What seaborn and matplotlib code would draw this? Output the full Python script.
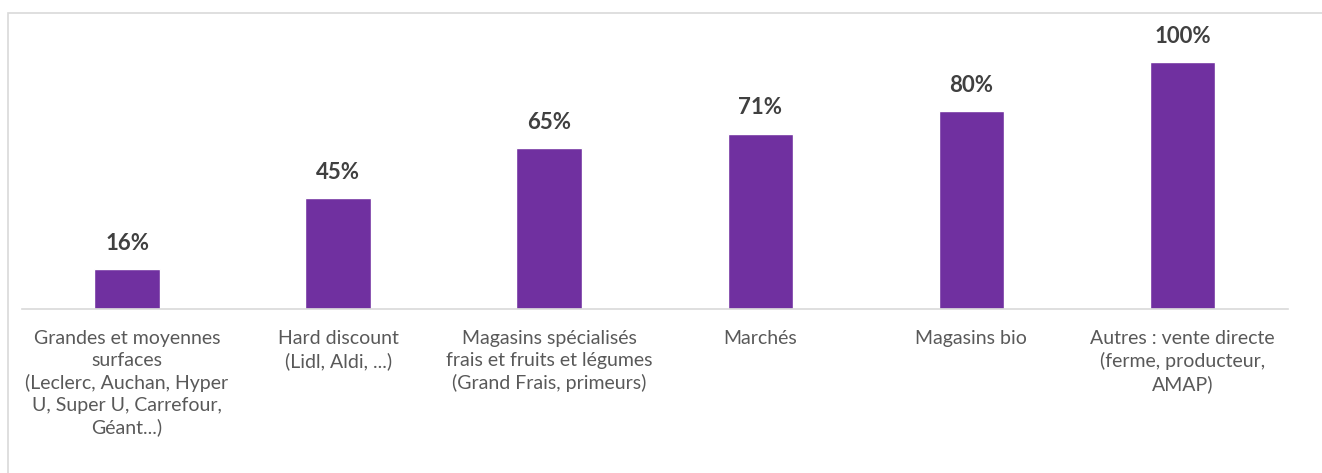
import matplotlib
matplotlib.use("Agg")
import matplotlib.pyplot as plt
import seaborn as sns
import pandas as pd
from matplotlib.patches import Rectangle

# --- DATA ---
categories = [
    "Grandes et moyennes\nsurfaces\n(Leclerc, Auchan, Hyper\nU, Super U, Carrefour,\nGéant...)",
    "Hard discount\n(Lidl, Aldi, ...)",
    "Magasins spécialisés\nfrais et fruits et légumes\n(Grand Frais, primeurs)",
    "Marchés",
    "Magasins bio",
    "Autres : vente directe\n(ferme, producteur,\nAMAP)",
]
values = [16, 45, 65, 71, 80, 100]
value_labels = ["16%", "45%", "65%", "71%", "80%", "100%"]
# ------------

BAR_COLOR = "#7030A0"
W, H = 1322, 473

sns.set_style("white")
plt.rcParams["font.family"] = ["Lato", "DejaVu Sans"]

df = pd.DataFrame({"cat": categories, "val": values})

fig = plt.figure(figsize=(W / 100, H / 100), dpi=100)
ax = fig.add_axes([21.5 / W, 1 - 309 / H, (1288 - 21.5) / W, (309 - 20) / H])

sns.barplot(data=df, x="cat", y="val", color=BAR_COLOR, width=0.31,
            saturation=1, ax=ax)

ax.set_ylim(0, 117)
ax.set_xlim(-0.5, len(categories) - 0.5)
ax.set_xlabel("")
ax.set_ylabel("")
ax.set_yticks([])
for s in ["top", "right", "left"]:
    ax.spines[s].set_visible(False)
ax.spines["bottom"].set_color("#D9D9D9")
ax.spines["bottom"].set_linewidth(1.2)

ax.set_xticks(range(len(categories)))
ax.set_xticklabels(categories, fontsize=14, color="#595959", linespacing=1.34)
ax.tick_params(axis="x", length=0, pad=15)

for i, (v, lab) in enumerate(zip(values, value_labels)):
    ax.annotate(lab, (i, v), xytext=(0, 11), textcoords="offset points",
                ha="center", va="bottom", fontsize=16, fontweight="bold",
                color="#404040")

# outer chart frame (only top and left edges visible)
fig.patches.append(Rectangle((8 / W, -0.2), 2, 1.2 - 13 / H,
                             transform=fig.transFigure, fill=False,
                             edgecolor="#D9D9D9", linewidth=1.2))

fig.savefig("out.png", dpi=100)
